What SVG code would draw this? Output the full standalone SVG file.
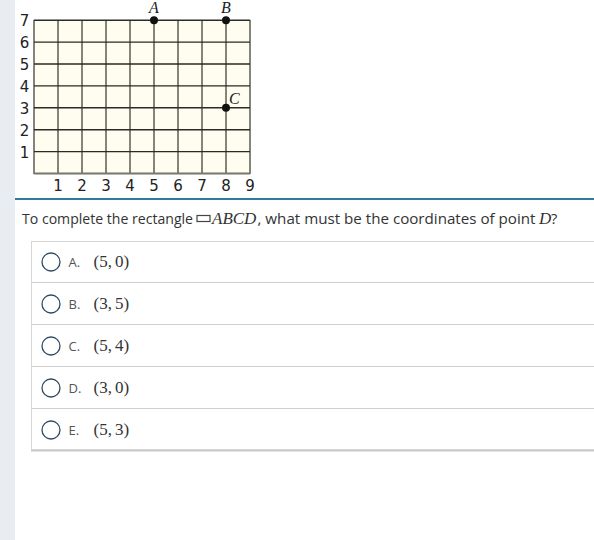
<svg xmlns="http://www.w3.org/2000/svg" width="594" height="540" viewBox="0 0 594 540">
<style>
.hl{stroke:#2a2a26;stroke-width:1.4}
.vl{stroke:#77776c;stroke-width:1.8}
.ax{font-family:"DejaVu Sans",sans-serif;font-size:15px;fill:#222}
.pt{font-family:"Liberation Serif",serif;font-style:italic;font-size:16px;fill:#222}
.q{font-family:"Open Sans",sans-serif;font-size:14.5px;fill:#333}
.qm{font-family:"Liberation Serif",serif;font-style:italic;font-size:17px;fill:#333}
.lab{font-family:"Open Sans",sans-serif;font-size:13px;fill:#555}
.val{font-family:"Liberation Serif",serif;font-size:17px;fill:#333}
.radio{fill:#fff;stroke:#2c4a63;stroke-width:1.3}
.div{stroke:#cfcfcf;stroke-width:1.2}
</style>
<rect x="0" y="0" width="594" height="540" fill="#fff"/>
<rect x="0" y="0" width="15" height="540" fill="#e9edf2"/>
<g id="grid">
<rect x="34" y="20.2" width="216" height="153.3" fill="#fffdf0"/>
<g class="vl">
<line x1="34" y1="20" x2="34" y2="174"/><line x1="58" y1="20" x2="58" y2="174"/><line x1="82" y1="20" x2="82" y2="174"/><line x1="106" y1="20" x2="106" y2="174"/><line x1="130" y1="20" x2="130" y2="174"/><line x1="154" y1="20" x2="154" y2="174"/><line x1="178" y1="20" x2="178" y2="174"/><line x1="202" y1="20" x2="202" y2="174"/><line x1="226" y1="20" x2="226" y2="174"/><line x1="250" y1="20" x2="250" y2="174"/>
</g>
<g class="hl">
<line x1="34" y1="20.2" x2="250" y2="20.2"/><line x1="34" y1="42.1" x2="250" y2="42.1"/><line x1="34" y1="64" x2="250" y2="64"/><line x1="34" y1="85.9" x2="250" y2="85.9"/><line x1="34" y1="107.8" x2="250" y2="107.8"/><line x1="34" y1="129.7" x2="250" y2="129.7"/><line x1="34" y1="151.6" x2="250" y2="151.6"/>
</g>
<line x1="34" y1="173.5" x2="250" y2="173.5" class="vl"/>
<g class="ax" text-anchor="middle">
<text x="24.5" y="25.5">7</text><text x="24.5" y="47.5">6</text><text x="24.5" y="69.5">5</text><text x="24.5" y="91.5">4</text><text x="24.5" y="113.5">3</text><text x="24.5" y="135.5">2</text><text x="24.5" y="157.5">1</text>
<text x="58" y="190.5">1</text><text x="82" y="190.5">2</text><text x="106" y="190.5">3</text><text x="130" y="190.5">4</text><text x="154" y="190.5">5</text><text x="178" y="190.5">6</text><text x="202" y="190.5">7</text><text x="226" y="190.5">8</text><text x="250" y="190.5">9</text>
</g>
</g>
<g id="pointA"><circle cx="154" cy="20.2" r="4" fill="#111"/><text class="pt" x="154" y="13" text-anchor="middle">A</text></g>
<g id="pointB"><circle cx="226" cy="20.2" r="4" fill="#111"/><text class="pt" x="226" y="13" text-anchor="middle">B</text></g>
<g id="pointC"><circle cx="226" cy="107.8" r="4" fill="#111"/><text class="pt" x="229" y="104">C</text></g>
<rect x="15" y="198" width="579" height="2" fill="#2f7d98"/>
<g id="question">
<text class="q" x="22" y="224" textLength="171" lengthAdjust="spacingAndGlyphs">To complete the rectangle</text>
<rect x="197" y="215.5" width="13" height="6" fill="none" stroke="#444" stroke-width="1.2"/>
<text class="qm" x="212" y="224">ABCD</text>
<text class="q" x="257.5" y="224" textLength="278" lengthAdjust="spacingAndGlyphs">, what must be the coordinates of point</text>
<text class="qm" x="539" y="224">D</text>
<text class="q" x="551" y="224">?</text>
</g>
<g id="options">
<rect x="31" y="449" width="565" height="2.5" fill="#c8c8c8"/>
<rect x="31.5" y="241.5" width="570" height="208" fill="#fff" stroke="#d6d6d6" stroke-width="1"/>
<line class="div" x1="32" y1="282.5" x2="594" y2="282.5"/>
<line class="div" x1="32" y1="324.5" x2="594" y2="324.5"/>
<line class="div" x1="32" y1="366.5" x2="594" y2="366.5"/>
<line class="div" x1="32" y1="408.5" x2="594" y2="408.5"/>
<g id="optA"><circle class="radio" cx="51" cy="262" r="9"/><text class="lab" x="68.5" y="266.5">A.</text><text class="val" x="93.5" y="267">(5,<tspan dx="3">0)</tspan></text></g>
<g id="optB"><circle class="radio" cx="51" cy="304" r="9"/><text class="lab" x="68.5" y="308.5">B.</text><text class="val" x="93.5" y="309">(3,<tspan dx="3">5)</tspan></text></g>
<g id="optC"><circle class="radio" cx="51" cy="346" r="9"/><text class="lab" x="68.5" y="350.5">C.</text><text class="val" x="93.5" y="351">(5,<tspan dx="3">4)</tspan></text></g>
<g id="optD"><circle class="radio" cx="51" cy="388" r="9"/><text class="lab" x="68.5" y="392.5">D.</text><text class="val" x="93.5" y="393">(3,<tspan dx="3">0)</tspan></text></g>
<g id="optE"><circle class="radio" cx="51" cy="430" r="9"/><text class="lab" x="68.5" y="434.5">E.</text><text class="val" x="93.5" y="435">(5,<tspan dx="3">3)</tspan></text></g>
</g>
</svg>
